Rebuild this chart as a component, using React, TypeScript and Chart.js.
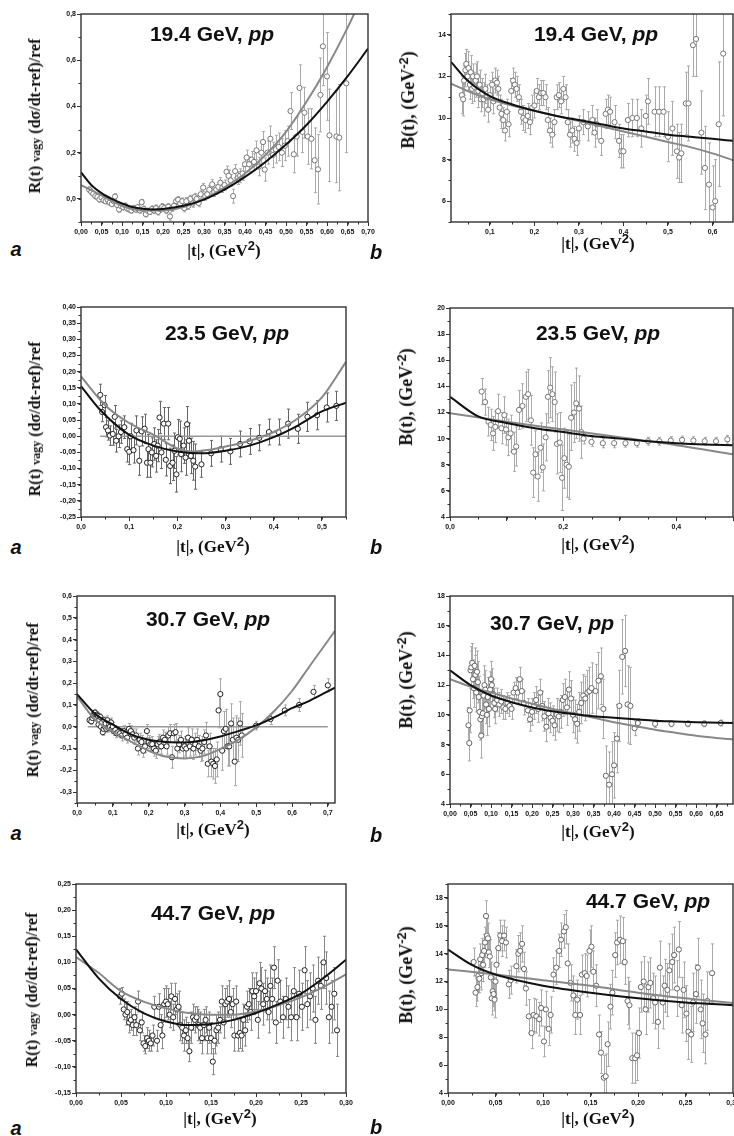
import React, { useEffect, useRef } from 'react';
import { Chart, registerables } from 'chart.js';
Chart.register(...registerables);

type Pt = [number, number, number]; // |t|, value, error
type Cv = [number, number];

// ---------- 19.4 GeV ----------
const R19: Pt[] = [
  [0.020,0.040,0.012],[0.025,0.030,0.012],[0.030,0.022,0.012],[0.035,0.012,0.012],[0.040,0.008,0.012],[0.045,-0.002,0.012],[0.050,0.006,0.012],[0.055,-0.006,0.012],[0.060,-0.010,0.012],[0.065,-0.004,0.012],
  [0.070,-0.016,0.012],[0.075,-0.022,0.012],[0.080,-0.010,0.012],[0.083,0.010,0.012],[0.088,-0.026,0.012],[0.093,-0.046,0.012],[0.098,-0.032,0.012],[0.103,-0.036,0.012],[0.108,-0.030,0.012],[0.113,-0.042,0.012],
  [0.118,-0.046,0.012],[0.123,-0.050,0.012],[0.128,-0.040,0.012],[0.133,-0.046,0.012],[0.138,-0.036,0.012],[0.143,-0.050,0.012],[0.148,-0.014,0.012],[0.153,-0.044,0.012],[0.158,-0.066,0.012],[0.163,-0.052,0.012],
  [0.168,-0.056,0.012],[0.173,-0.044,0.014],[0.178,-0.050,0.014],[0.183,-0.040,0.014],[0.188,-0.056,0.014],[0.193,-0.044,0.014],[0.198,-0.034,0.014],[0.203,-0.040,0.014],[0.208,-0.050,0.014],[0.213,-0.034,0.014],
  [0.217,-0.076,0.016],[0.222,-0.040,0.014],[0.227,-0.030,0.014],[0.232,-0.010,0.014],[0.237,-0.004,0.014],[0.242,-0.020,0.014],[0.247,-0.010,0.014],[0.252,-0.040,0.016],[0.257,-0.010,0.016],[0.262,-0.030,0.016],
  [0.267,0.000,0.016],[0.272,-0.020,0.016],[0.277,0.008,0.016],[0.282,0.000,0.016],[0.287,-0.018,0.016],[0.292,0.020,0.018],[0.298,0.049,0.018],[0.303,0.012,0.018],[0.308,0.020,0.018],[0.313,0.040,0.018],
  [0.320,0.063,0.020],[0.325,0.030,0.020],[0.330,0.040,0.020],[0.335,0.052,0.020],[0.340,0.070,0.022],[0.345,0.050,0.022],[0.350,0.060,0.022],[0.355,0.117,0.025],[0.360,0.100,0.025],[0.365,0.080,0.025],
  [0.371,0.012,0.030],[0.376,0.120,0.028],[0.382,0.090,0.028],[0.388,0.100,0.030],[0.394,0.110,0.030],[0.400,0.150,0.030],[0.404,0.179,0.032],[0.410,0.150,0.032],[0.416,0.170,0.035],[0.422,0.160,0.035],
  [0.428,0.210,0.040],[0.434,0.140,0.040],[0.440,0.200,0.045],[0.444,0.246,0.045],[0.448,0.127,0.050],[0.455,0.200,0.050],[0.462,0.260,0.055],[0.468,0.190,0.055],[0.475,0.215,0.060],[0.482,0.225,0.060],
  [0.490,0.200,0.060],[0.497,0.230,0.065],[0.504,0.250,0.065],[0.511,0.380,0.080],[0.519,0.193,0.080],[0.526,0.270,0.085],[0.533,0.480,0.100],[0.540,0.290,0.090],[0.545,0.373,0.110],[0.553,0.270,0.120],
  [0.562,0.260,0.130],[0.570,0.167,0.140],[0.578,0.128,0.150],[0.584,0.450,0.160],[0.590,0.660,0.170],[0.600,0.530,0.190],[0.606,0.275,0.200],[0.623,0.270,0.200],[0.630,0.265,0.230],[0.647,0.500,0.300],
];
const R19_BLACK: Cv[] = [[0,0.115],[0.025,0.06],[0.05,0.025],[0.075,0.0],[0.1,-0.02],[0.125,-0.035],[0.15,-0.043],[0.175,-0.046],[0.2,-0.044],[0.25,-0.03],[0.3,-0.003],[0.35,0.04],[0.4,0.095],[0.45,0.16],[0.5,0.235],[0.55,0.32],[0.6,0.42],[0.65,0.53],[0.7,0.65]];
const R19_GRAY: Cv[] = [[0,0.06],[0.05,0.015],[0.1,-0.03],[0.15,-0.05],[0.2,-0.05],[0.25,-0.035],[0.3,0.0],[0.35,0.05],[0.4,0.11],[0.45,0.19],[0.5,0.29],[0.55,0.42],[0.6,0.57],[0.65,0.74],[0.7,0.93]];

const B19: Pt[] = [
  [0.037,11.1,0.9],[0.040,10.9,0.8],[0.042,11.8,0.7],[0.045,12.3,0.8],[0.047,12.6,0.7],[0.050,12.0,0.7],[0.052,12.4,0.8],[0.055,11.6,0.7],[0.057,12.2,0.8],[0.060,11.4,0.7],
  [0.062,12.0,0.6],[0.065,11.5,0.7],[0.068,11.8,0.8],[0.071,12.0,0.7],[0.074,11.3,0.8],[0.077,11.6,0.7],[0.080,10.9,0.6],[0.083,11.2,0.7],[0.086,10.9,0.8],[0.090,11.4,0.7],
  [0.093,11.0,0.6],[0.096,10.4,0.6],[0.100,11.1,0.7],[0.105,11.6,0.6],[0.108,10.8,0.6],[0.112,11.8,0.6],[0.116,11.7,0.6],[0.119,11.4,0.6],[0.122,10.5,0.6],[0.126,10.2,0.7],
  [0.130,9.9,0.6],[0.134,9.4,0.5],[0.138,10.3,0.6],[0.142,9.7,0.6],[0.148,11.3,0.6],[0.152,11.8,0.6],[0.156,11.6,0.6],[0.160,11.4,0.6],[0.165,11.0,0.6],[0.170,10.3,0.6],
  [0.175,10.0,0.6],[0.180,9.9,0.6],[0.185,10.1,0.6],[0.190,9.8,0.6],[0.195,10.5,0.6],[0.200,10.6,0.6],[0.205,11.3,0.6],[0.210,11.0,0.6],[0.215,11.2,0.6],[0.220,11.2,0.6],
  [0.225,11.0,0.6],[0.230,9.9,0.6],[0.235,9.4,0.6],[0.240,9.2,0.6],[0.245,9.8,0.6],[0.250,11.0,0.6],[0.255,11.1,0.6],[0.260,10.8,0.6],[0.265,11.4,0.6],[0.270,11.0,0.6],
  [0.275,9.8,0.6],[0.280,9.2,0.6],[0.285,9.4,0.6],[0.290,9.0,0.6],[0.295,8.8,0.6],[0.300,9.5,0.6],[0.310,9.8,0.6],[0.320,9.6,0.7],[0.330,9.9,0.7],[0.335,9.3,0.7],
  [0.340,9.7,0.7],[0.350,8.9,0.7],[0.360,10.2,0.7],[0.365,10.4,0.7],[0.370,10.3,0.7],[0.380,9.8,0.8],[0.390,8.9,0.8],[0.395,8.4,0.8],[0.400,8.4,0.8],[0.410,9.9,0.8],
  [0.420,10.0,0.9],[0.430,10.0,0.9],[0.440,9.5,0.9],[0.450,10.1,1.0],[0.455,10.8,1.1],[0.470,10.3,1.2],[0.480,10.3,1.2],[0.490,10.3,1.2],[0.500,9.1,1.2],[0.510,9.5,1.3],
  [0.520,8.4,1.3],[0.525,8.1,1.2],[0.530,8.3,1.4],[0.540,10.7,1.5],[0.546,10.7,1.8],[0.556,13.5,1.5],[0.563,13.8,1.8],[0.575,9.3,2.0],[0.583,7.6,2.0],[0.592,6.8,2.0],
  [0.600,5.7,2.0],[0.606,6.0,2.0],[0.614,9.7,3.0],[0.624,13.1,3.0],
];
const B19_BLACK: Cv[] = [[0.0127,12.7],[0.05,11.8],[0.1,11.05],[0.15,10.65],[0.2,10.35],[0.25,10.1],[0.3,9.9],[0.35,9.7],[0.4,9.5],[0.45,9.35],[0.5,9.2],[0.55,9.1],[0.6,9.0],[0.646,8.9]];
const B19_GRAY: Cv[] = [[0.0127,11.65],[0.05,11.3],[0.1,10.9],[0.15,10.6],[0.2,10.35],[0.25,10.1],[0.3,9.85],[0.35,9.6],[0.4,9.35],[0.45,9.1],[0.5,8.85],[0.55,8.6],[0.6,8.3],[0.646,7.97]];

// ---------- 23.5 GeV ----------
const R23: Pt[] = [
  [0.040,0.128,0.033],[0.044,0.075,0.03],[0.049,0.096,0.03],[0.052,0.028,0.03],[0.056,0.018,0.03],[0.060,0.002,0.03],[0.066,0.007,0.035],[0.070,0.060,0.035],[0.073,-0.014,0.035],[0.078,0.000,0.035],
  [0.083,0.013,0.035],[0.090,0.028,0.035],[0.096,-0.040,0.04],[0.100,-0.048,0.04],[0.103,0.000,0.04],[0.109,-0.043,0.04],[0.115,0.018,0.045],[0.121,-0.076,0.045],[0.126,0.015,0.045],[0.132,0.023,0.045],
  [0.137,-0.082,0.045],[0.140,-0.040,0.045],[0.144,-0.082,0.045],[0.147,-0.050,0.045],[0.152,-0.024,0.05],[0.156,-0.061,0.05],[0.159,-0.029,0.05],[0.163,0.058,0.05],[0.167,-0.050,0.05],[0.172,0.039,0.05],
  [0.176,-0.073,0.05],[0.181,0.039,0.05],[0.185,-0.092,0.055],[0.190,-0.082,0.055],[0.194,-0.045,0.055],[0.198,-0.118,0.055],[0.201,-0.003,0.055],[0.205,-0.008,0.055],[0.208,-0.055,0.055],[0.213,-0.029,0.055],
  [0.217,-0.066,0.055],[0.220,0.037,0.055],[0.224,-0.014,0.055],[0.228,-0.061,0.055],[0.233,-0.076,0.06],[0.237,-0.094,0.07],[0.250,-0.087,0.04],[0.270,-0.053,0.04],[0.290,-0.040,0.04],[0.310,-0.047,0.04],
  [0.330,-0.024,0.04],[0.350,-0.016,0.04],[0.370,-0.005,0.04],[0.390,0.013,0.04],[0.410,0.013,0.04],[0.430,0.039,0.045],[0.450,0.023,0.045],[0.470,0.060,0.045],[0.490,0.065,0.045],[0.510,0.089,0.045],
  [0.530,0.094,0.045],
];
const R23_BLACK: Cv[] = [[0,0.155],[0.04,0.081],[0.1,0.004],[0.15,-0.029],[0.2,-0.047],[0.25,-0.053],[0.3,-0.045],[0.35,-0.029],[0.4,-0.003],[0.45,0.033],[0.5,0.077],[0.55,0.104]];
const R23_GRAY: Cv[] = [[0,0.185],[0.05,0.096],[0.1,0.041],[0.15,0.005],[0.2,-0.038],[0.23,-0.047],[0.3,-0.032],[0.35,-0.014],[0.4,0.013],[0.45,0.055],[0.5,0.12],[0.55,0.23]];
const R23_ZERO: Cv[] = [[0.04,0],[0.55,0]];

const B23: Pt[] = [
  [0.056,13.6,1.0],[0.062,12.8,1.0],[0.068,11.3,1.1],[0.072,11.05,1.2],[0.076,10.4,1.3],[0.080,10.9,1.2],[0.085,12.1,1.3],[0.091,10.8,1.2],[0.096,11.8,1.4],[0.099,10.7,1.2],
  [0.103,10.1,1.4],[0.107,10.4,1.4],[0.113,9.0,1.5],[0.117,9.4,1.5],[0.122,12.2,1.5],[0.128,12.5,1.7],[0.134,13.2,1.9],[0.138,13.4,1.9],[0.143,11.4,1.9],[0.147,7.4,1.9],
  [0.151,8.8,1.8],[0.155,7.1,1.9],[0.160,9.3,1.9],[0.164,7.8,1.8],[0.169,10.1,1.8],[0.173,13.2,2.0],[0.177,13.9,2.3],[0.181,13.4,2.1],[0.185,12.8,2.3],[0.189,9.6,2.3],
  [0.194,9.7,2.3],[0.198,7.0,2.5],[0.202,8.5,2.3],[0.206,8.0,2.5],[0.210,7.85,2.5],[0.214,11.6,2.5],[0.219,12.0,2.3],[0.223,12.7,2.7],[0.228,12.3,2.5],[0.232,10.5,2.0],
  [0.236,10.0,0.4],[0.250,9.75,0.35],[0.270,9.65,0.35],[0.290,9.65,0.35],[0.310,9.65,0.3],[0.330,9.65,0.3],[0.350,9.8,0.3],[0.370,9.8,0.3],[0.390,9.85,0.3],[0.410,9.9,0.3],
  [0.430,9.85,0.3],[0.450,9.8,0.3],[0.470,9.8,0.3],[0.490,9.95,0.3],
];
const B23_BLACK: Cv[] = [[0,13.2],[0.05,11.7],[0.1,11.2],[0.15,10.8],[0.2,10.5],[0.25,10.2],[0.3,10.0],[0.35,9.8],[0.4,9.65],[0.45,9.55],[0.5,9.5]];
const B23_GRAY: Cv[] = [[0,11.95],[0.1,11.3],[0.2,10.7],[0.3,10.1],[0.4,9.5],[0.5,8.8]];

// ---------- 30.7 GeV ----------
const R30: Pt[] = [
  [0.035,0.030,0.015],[0.040,0.025,0.015],[0.043,0.040,0.015],[0.046,0.050,0.015],[0.048,0.060,0.015],[0.050,0.065,0.015],[0.053,0.040,0.015],[0.055,0.055,0.015],[0.058,0.050,0.015],[0.060,0.010,0.015],
  [0.062,0.030,0.015],[0.065,0.045,0.015],[0.067,0.000,0.015],[0.070,0.020,0.015],[0.072,-0.025,0.015],[0.074,-0.010,0.015],[0.076,0.030,0.015],[0.078,0.000,0.015],[0.080,0.015,0.015],[0.082,-0.010,0.015],
  [0.085,0.030,0.02],[0.087,-0.005,0.02],[0.090,0.010,0.02],[0.092,0.000,0.02],[0.095,0.020,0.02],[0.097,-0.010,0.02],[0.100,0.000,0.02],[0.103,-0.020,0.02],[0.107,-0.015,0.02],[0.110,-0.030,0.02],
  [0.115,-0.025,0.02],[0.120,-0.030,0.02],[0.125,-0.040,0.025],[0.130,-0.020,0.025],[0.135,-0.035,0.025],[0.140,-0.050,0.025],[0.145,-0.010,0.025],[0.150,-0.020,0.025],[0.155,-0.035,0.025],[0.160,-0.050,0.03],
  [0.165,-0.040,0.03],[0.170,-0.100,0.03],[0.175,-0.060,0.03],[0.180,-0.070,0.03],[0.185,-0.110,0.03],[0.190,-0.090,0.03],[0.195,-0.020,0.03],[0.200,-0.070,0.03],[0.205,-0.080,0.03],[0.210,-0.080,0.035],
  [0.215,-0.100,0.035],[0.220,-0.110,0.035],[0.225,-0.080,0.035],[0.230,-0.070,0.035],[0.235,-0.090,0.035],[0.240,-0.050,0.035],[0.245,-0.060,0.035],[0.250,-0.090,0.04],[0.255,-0.040,0.04],[0.260,-0.030,0.04],
  [0.265,-0.140,0.05],[0.270,-0.030,0.04],[0.275,-0.025,0.04],[0.280,-0.100,0.04],[0.285,-0.080,0.04],[0.290,-0.060,0.04],[0.295,-0.100,0.045],[0.300,-0.090,0.045],[0.305,-0.100,0.045],[0.310,-0.050,0.045],
  [0.315,-0.090,0.045],[0.320,-0.060,0.05],[0.325,-0.100,0.05],[0.330,-0.080,0.05],[0.335,-0.060,0.05],[0.340,-0.090,0.05],[0.345,-0.110,0.05],[0.350,-0.100,0.055],[0.355,-0.070,0.055],[0.360,-0.040,0.06],
  [0.365,-0.170,0.06],[0.370,-0.090,0.06],[0.375,-0.160,0.07],[0.380,-0.170,0.07],[0.385,-0.180,0.08],[0.390,-0.150,0.08],[0.395,0.075,0.08],[0.400,0.150,0.07],[0.405,-0.110,0.09],[0.410,-0.020,0.09],
  [0.415,-0.010,0.09],[0.420,-0.090,0.09],[0.425,-0.090,0.09],[0.430,0.015,0.09],[0.435,-0.060,0.1],[0.440,-0.160,0.11],[0.445,-0.050,0.1],[0.450,-0.060,0.1],[0.455,0.015,0.1],[0.460,-0.040,0.1],
  [0.500,0.005,0.02],[0.540,0.035,0.025],[0.580,0.075,0.025],[0.620,0.100,0.03],[0.660,0.160,0.03],[0.700,0.190,0.03],
];
const R30_BLACK: Cv[] = [[0,0.15],[0.05,0.06],[0.1,0.01],[0.15,-0.035],[0.2,-0.06],[0.25,-0.07],[0.3,-0.072],[0.35,-0.063],[0.4,-0.045],[0.45,-0.02],[0.5,0.006],[0.55,0.043],[0.6,0.085],[0.65,0.12],[0.72,0.18]];
const R30_GRAY: Cv[] = [[0,0.14],[0.05,0.033],[0.1,-0.022],[0.15,-0.068],[0.2,-0.11],[0.25,-0.138],[0.3,-0.146],[0.35,-0.135],[0.4,-0.102],[0.45,-0.06],[0.5,-0.003],[0.55,0.071],[0.6,0.164],[0.65,0.28],[0.72,0.44]];
const R30_ZERO: Cv[] = [[0.03,0],[0.7,0]];

const B30: Pt[] = [
  [0.045,9.3,1.2],[0.047,8.1,1.2],[0.048,10.3,1.5],[0.050,13.0,1.3],[0.052,13.2,1.4],[0.054,13.5,1.3],[0.056,12.4,1.3],[0.058,11.8,1.3],[0.060,13.3,1.2],[0.062,12.7,1.3],
  [0.064,11.5,1.3],[0.066,12.9,1.4],[0.068,12.2,1.4],[0.070,11.2,1.4],[0.072,10.2,1.4],[0.074,9.7,1.4],[0.076,8.6,1.5],[0.078,9.9,1.4],[0.080,10.1,1.4],[0.082,11.3,1.4],
  [0.084,12.0,1.3],[0.086,11.7,1.3],[0.088,10.7,1.3],[0.090,10.0,1.4],[0.092,11.2,1.3],[0.095,10.4,1.2],[0.098,11.7,1.2],[0.100,12.4,1.2],[0.102,12.0,1.1],[0.105,11.4,1.0],
  [0.108,10.8,1.0],[0.110,10.4,1.0],[0.115,11.0,0.8],[0.120,10.7,0.8],[0.125,10.9,0.8],[0.130,10.5,0.8],[0.135,10.4,0.7],[0.140,10.8,0.7],[0.145,10.6,0.7],[0.150,10.4,0.7],
  [0.155,11.5,0.7],[0.160,11.8,0.7],[0.165,11.5,0.7],[0.170,12.4,0.8],[0.175,11.6,0.8],[0.180,10.8,0.8],[0.190,10.3,0.8],[0.195,9.7,0.8],[0.200,10.2,0.9],[0.205,10.6,0.9],
  [0.210,11.0,0.9],[0.215,10.4,0.9],[0.220,11.5,0.9],[0.225,10.6,1.0],[0.230,9.9,1.0],[0.235,9.2,1.0],[0.240,10.1,1.0],[0.245,9.8,1.0],[0.250,9.6,1.0],[0.255,9.3,1.0],
  [0.260,10.0,1.1],[0.265,9.9,1.1],[0.270,10.2,1.1],[0.275,11.0,1.1],[0.280,11.2,1.2],[0.285,10.5,1.2],[0.290,11.7,1.2],[0.295,11.1,1.2],[0.300,10.0,1.2],[0.305,9.7,1.3],
  [0.310,9.4,1.3],[0.315,10.2,1.3],[0.320,10.8,1.4],[0.325,11.3,1.4],[0.330,11.1,1.5],[0.335,11.5,1.5],[0.340,11.6,1.6],[0.345,11.8,1.7],[0.355,11.6,1.8],[0.362,12.3,1.9],
  [0.368,12.6,1.9],[0.374,10.4,2.0],[0.380,5.9,2.0],[0.388,5.3,2.2],[0.395,6.0,2.2],[0.400,6.6,2.2],[0.407,8.4,2.3],[0.413,10.6,2.4],[0.420,13.9,2.5],[0.427,14.3,2.4],
  [0.433,10.7,2.6],[0.440,10.6,2.6],[0.450,9.1,0.5],[0.458,9.45,0.3],[0.500,9.4,0.25],[0.540,9.4,0.2],[0.580,9.4,0.2],[0.620,9.4,0.2],[0.660,9.45,0.2],
];
const B30_BLACK: Cv[] = [[0,13.0],[0.05,12.0],[0.1,11.3],[0.15,10.85],[0.2,10.5],[0.25,10.25],[0.3,10.05],[0.35,9.9],[0.4,9.8],[0.45,9.7],[0.5,9.6],[0.55,9.55],[0.6,9.5],[0.69,9.45]];
const B30_GRAY: Cv[] = [[0,12.4],[0.05,11.9],[0.1,11.5],[0.15,11.1],[0.2,10.75],[0.25,10.4],[0.3,10.1],[0.35,9.8],[0.4,9.5],[0.45,9.25],[0.5,9.0],[0.55,8.8],[0.6,8.6],[0.65,8.45],[0.69,8.35]];

// ---------- 44.7 GeV ----------
const R44: Pt[] = [
  [0.049,0.035,0.015],[0.051,0.040,0.012],[0.053,0.010,0.02],[0.055,0.000,0.02],[0.057,0.005,0.02],[0.059,-0.015,0.02],[0.061,-0.010,0.02],[0.063,-0.020,0.02],[0.065,-0.005,0.02],[0.067,-0.020,0.02],
  [0.069,0.025,0.02],[0.071,-0.030,0.02],[0.073,-0.015,0.02],[0.075,-0.055,0.015],[0.077,-0.060,0.015],[0.079,-0.045,0.02],[0.081,-0.050,0.02],[0.083,-0.055,0.015],[0.085,-0.040,0.02],[0.087,0.015,0.02],
  [0.090,-0.050,0.02],[0.092,0.015,0.025],[0.094,-0.020,0.02],[0.096,-0.040,0.025],[0.098,0.020,0.03],[0.100,0.025,0.03],[0.102,0.020,0.03],[0.104,0.000,0.025],[0.106,0.035,0.025],[0.108,-0.005,0.025],
  [0.110,0.030,0.03],[0.112,0.010,0.03],[0.114,0.015,0.03],[0.116,-0.020,0.03],[0.118,-0.025,0.03],[0.120,-0.040,0.03],[0.122,-0.030,0.025],[0.124,-0.045,0.03],[0.126,-0.070,0.02],[0.128,-0.025,0.03],
  [0.130,-0.005,0.025],[0.132,-0.010,0.025],[0.134,-0.005,0.02],[0.136,-0.020,0.03],[0.138,-0.025,0.03],[0.140,-0.045,0.03],[0.142,-0.020,0.03],[0.144,-0.010,0.025],[0.146,-0.045,0.03],[0.148,-0.025,0.03],
  [0.150,-0.045,0.03],[0.152,-0.090,0.025],[0.154,-0.050,0.025],[0.156,-0.030,0.03],[0.158,-0.025,0.03],[0.160,-0.010,0.025],[0.162,0.025,0.03],[0.164,-0.015,0.03],[0.166,0.020,0.03],[0.168,0.025,0.03],
  [0.170,0.030,0.035],[0.172,0.005,0.03],[0.174,0.020,0.03],[0.176,-0.040,0.03],[0.178,0.025,0.03],[0.180,-0.040,0.03],[0.182,-0.035,0.03],[0.184,-0.040,0.03],[0.186,-0.010,0.03],[0.188,-0.030,0.03],
  [0.190,0.015,0.03],[0.192,0.020,0.03],[0.194,0.005,0.035],[0.196,0.045,0.035],[0.198,0.035,0.035],[0.200,0.045,0.035],[0.202,-0.010,0.035],[0.204,0.060,0.04],[0.206,0.050,0.04],[0.208,0.020,0.04],
  [0.210,0.045,0.04],[0.212,0.030,0.04],[0.214,0.005,0.04],[0.216,0.055,0.04],[0.218,0.030,0.04],[0.220,0.090,0.04],[0.222,-0.015,0.04],[0.224,0.065,0.04],[0.227,0.025,0.04],[0.230,-0.005,0.04],
  [0.233,0.030,0.04],[0.236,0.015,0.04],[0.239,-0.005,0.045],[0.242,0.045,0.045],[0.245,-0.005,0.045],[0.248,0.040,0.045],[0.251,0.015,0.045],[0.254,0.085,0.045],[0.257,0.020,0.045],[0.260,0.035,0.045],
  [0.263,0.050,0.045],[0.266,-0.010,0.045],[0.269,0.065,0.045],[0.272,0.055,0.045],[0.275,0.100,0.05],[0.278,0.070,0.05],[0.281,-0.005,0.05],[0.284,0.015,0.05],[0.287,0.040,0.05],[0.290,-0.030,0.05],
];
const R44_BLACK: Cv[] = [[0,0.125],[0.025,0.07],[0.05,0.03],[0.075,0.003],[0.1,-0.013],[0.125,-0.02],[0.15,-0.018],[0.175,-0.01],[0.2,0.003],[0.225,0.02],[0.25,0.04],[0.275,0.07],[0.3,0.105]];
const R44_GRAY: Cv[] = [[0,0.11],[0.025,0.08],[0.05,0.045],[0.075,0.025],[0.1,0.012],[0.125,0.003],[0.15,0.0],[0.175,0.0],[0.2,0.006],[0.225,0.018],[0.25,0.033],[0.275,0.053],[0.3,0.077]];

const B44: Pt[] = [
  [0.027,13.4,1.0],[0.029,11.2,1.0],[0.031,11.6,1.0],[0.032,12.4,1.2],[0.033,12.2,1.0],[0.034,13.6,1.1],[0.035,12.6,1.2],[0.036,13.9,1.2],[0.037,13.2,1.2],[0.038,14.2,1.2],
  [0.039,14.8,1.1],[0.040,16.7,1.1],[0.041,15.3,1.2],[0.042,15.1,1.1],[0.043,14.1,1.1],[0.044,13.8,1.2],[0.045,12.3,1.1],[0.046,10.8,1.2],[0.047,11.3,1.1],[0.048,11.1,1.2],
  [0.049,10.7,1.3],[0.050,12.0,1.2],[0.051,13.2,1.2],[0.053,14.4,1.1],[0.055,15.3,1.1],[0.057,14.9,1.1],[0.059,15.3,1.1],[0.061,14.8,1.1],[0.064,11.8,1.0],[0.066,12.1,1.0],
  [0.072,13.1,1.2],[0.074,14.0,1.3],[0.076,14.2,1.3],[0.078,14.7,1.3],[0.080,12.9,1.2],[0.082,11.5,1.2],[0.085,9.5,1.2],[0.088,8.3,1.1],[0.090,9.6,1.2],[0.093,9.5,1.2],
  [0.096,9.3,1.2],[0.098,10.1,1.3],[0.101,7.7,1.1],[0.103,10.0,1.3],[0.106,8.6,1.2],[0.108,9.6,1.3],[0.111,12.5,1.2],[0.114,13.0,1.2],[0.117,14.2,1.2],[0.119,15.0,1.2],
  [0.122,15.6,1.2],[0.124,15.9,1.2],[0.126,13.3,1.4],[0.129,11.9,1.3],[0.132,11.0,1.4],[0.134,9.6,1.4],[0.136,10.7,1.4],[0.139,9.6,1.4],[0.141,12.5,1.4],[0.144,12.6,1.4],
  [0.146,12.4,1.5],[0.149,14.2,1.5],[0.151,14.5,1.5],[0.153,12.7,1.5],[0.156,11.7,1.5],[0.159,8.2,1.4],[0.161,6.9,1.5],[0.164,5.1,1.6],[0.166,5.2,1.6],[0.168,7.5,1.6],
  [0.171,10.2,1.6],[0.173,11.2,1.6],[0.176,13.9,1.6],[0.178,14.8,1.6],[0.181,15.0,1.7],[0.184,14.9,1.7],[0.186,13.4,1.6],[0.189,10.6,1.7],[0.191,10.3,1.7],[0.194,6.5,1.8],
  [0.197,6.5,1.8],[0.199,6.7,1.8],[0.201,8.3,1.8],[0.203,11.6,1.8],[0.206,12.0,1.8],[0.208,10.0,1.8],[0.211,11.6,1.8],[0.213,11.9,1.8],[0.216,10.8,1.8],[0.218,10.5,1.9],
  [0.221,9.1,1.9],[0.223,13.0,1.9],[0.226,10.5,1.9],[0.228,11.7,1.9],[0.231,11.4,1.9],[0.233,12.8,1.9],[0.236,13.4,2.0],[0.238,13.9,2.0],[0.241,11.5,2.0],[0.243,14.3,2.0],
  [0.246,10.3,2.0],[0.248,11.4,2.0],[0.251,9.7,2.0],[0.253,8.4,2.0],[0.256,8.2,2.0],[0.258,10.5,2.1],[0.261,11.1,2.1],[0.263,13.0,2.1],[0.266,10.0,2.1],[0.268,9.0,2.1],
  [0.271,8.2,2.1],[0.273,10.6,2.1],[0.278,12.6,2.1],
];
const B44_BLACK: Cv[] = [[0,14.3],[0.025,13.2],[0.05,12.5],[0.075,12.05],[0.1,11.7],[0.15,11.2],[0.2,10.8],[0.25,10.5],[0.3,10.3]];
const B44_GRAY: Cv[] = [[0,12.87],[0.05,12.5],[0.1,12.1],[0.15,11.7],[0.2,11.2],[0.25,10.8],[0.3,10.45]];

// ---------- tick values ----------
const X_TICKS_19A = [0,0.05,0.1,0.15,0.2,0.25,0.3,0.35,0.4,0.45,0.5,0.55,0.6,0.65,0.7];
const Y_TICKS_19A = [0,0.2,0.4,0.6,0.8];
const X_TICKS_19B = [0.1,0.2,0.3,0.4,0.5,0.6];
const Y_TICKS_19B = [6,8,10,12,14];
const X_TICKS_23A = [0,0.1,0.2,0.3,0.4,0.5];
const Y_TICKS_23A = [-0.25,-0.2,-0.15,-0.1,-0.05,0,0.05,0.1,0.15,0.2,0.25,0.3,0.35,0.4];
const X_TICKS_23B = [0,0.1,0.2,0.3,0.4,0.5];
const Y_TICKS_23B = [4,6,8,10,12,14,16,18,20];
const X_TICKS_30A = [0,0.1,0.2,0.3,0.4,0.5,0.6,0.7];
const Y_TICKS_30A = [-0.3,-0.2,-0.1,0,0.1,0.2,0.3,0.4,0.5,0.6];
const X_TICKS_30B = [0,0.05,0.1,0.15,0.2,0.25,0.3,0.35,0.4,0.45,0.5,0.55,0.6,0.65];
const Y_TICKS_30B = [4,6,8,10,12,14,16,18];
const X_TICKS_44 = [0,0.05,0.1,0.15,0.2,0.25,0.3];
const Y_TICKS_44A = [-0.15,-0.1,-0.05,0,0.05,0.1,0.15,0.2,0.25];
const Y_TICKS_44B = [4,6,8,10,12,14,16,18];

interface PanelCfg {
  box: [number, number, number, number];
  xMin: number; xMax: number; xTicks: number[]; xDec: number; xMinor: number; xLabelEvery?: number;
  yMin: number; yMax: number; yTicks: number[]; yDec: number; yMinor: number;
  points: Pt[]; black: Cv[]; gray: Cv[]; zero?: Cv[];
  ptColor: string; barColor: string;
  energy: string; titlePos: [number, number];
  kind: 'a' | 'b'; letterPos: [number, number]; yTitlePos: [number, number]; xTitlePos: [number, number];
}

const PANELS: PanelCfg[] = [
  { box: [81, 14, 368, 222], xMin: 0, xMax: 0.7, xTicks: X_TICKS_19A, xDec: 2, xMinor: 0.025, yMin: -0.1, yMax: 0.8, yTicks: Y_TICKS_19A, yDec: 1, yMinor: 0.1,
    points: R19, black: R19_BLACK, gray: R19_GRAY, ptColor: '#777', barColor: '#aaa', energy: '19.4', titlePos: [212, 33],
    kind: 'a', letterPos: [16, 249], yTitlePos: [35, 116], xTitlePos: [224, 249] },
  { box: [451, 14, 733, 222], xMin: 0.0127, xMax: 0.646, xTicks: X_TICKS_19B, xDec: 1, xMinor: 0.05, yMin: 5, yMax: 15, yTicks: Y_TICKS_19B, yDec: 0, yMinor: 1,
    points: B19, black: B19_BLACK, gray: B19_GRAY, ptColor: '#777', barColor: '#aaa', energy: '19.4', titlePos: [596, 33],
    kind: 'b', letterPos: [376, 252], yTitlePos: [407, 100], xTitlePos: [598, 242] },
  { box: [81, 307, 346, 517], xMin: 0, xMax: 0.55, xTicks: X_TICKS_23A, xDec: 1, xMinor: 0.05, yMin: -0.25, yMax: 0.4, yTicks: Y_TICKS_23A, yDec: 2, yMinor: 0.025,
    points: R23, black: R23_BLACK, gray: R23_GRAY, zero: R23_ZERO, ptColor: '#222', barColor: '#666', energy: '23.5', titlePos: [227, 332],
    kind: 'a', letterPos: [16, 547], yTitlePos: [35, 419], xTitlePos: [213, 545] },
  { box: [450, 308, 733, 517], xMin: 0, xMax: 0.5, xTicks: X_TICKS_23B, xDec: 1, xMinor: 0.05, xLabelEvery: 2, yMin: 4, yMax: 20, yTicks: Y_TICKS_23B, yDec: 0, yMinor: 1,
    points: B23, black: B23_BLACK, gray: B23_GRAY, ptColor: '#777', barColor: '#aaa', energy: '23.5', titlePos: [598, 332],
    kind: 'b', letterPos: [376, 547], yTitlePos: [405, 397], xTitlePos: [598, 543] },
  { box: [77, 596, 335, 803], xMin: 0, xMax: 0.72, xTicks: X_TICKS_30A, xDec: 1, xMinor: 0.05, yMin: -0.35, yMax: 0.6, yTicks: Y_TICKS_30A, yDec: 1, yMinor: 0.05,
    points: R30, black: R30_BLACK, gray: R30_GRAY, zero: R30_ZERO, ptColor: '#222', barColor: '#aaa', energy: '30.7', titlePos: [208, 618],
    kind: 'a', letterPos: [16, 833], yTitlePos: [33, 700], xTitlePos: [213, 828] },
  { box: [450, 596, 733, 804], xMin: 0, xMax: 0.69, xTicks: X_TICKS_30B, xDec: 2, xMinor: 0.025, yMin: 4, yMax: 18, yTicks: Y_TICKS_30B, yDec: 0, yMinor: 1,
    points: B30, black: B30_BLACK, gray: B30_GRAY, ptColor: '#666', barColor: '#aaa', energy: '30.7', titlePos: [552, 622],
    kind: 'b', letterPos: [376, 835], yTitlePos: [405, 680], xTitlePos: [598, 830] },
  { box: [76, 884, 346, 1093], xMin: 0, xMax: 0.3, xTicks: X_TICKS_44, xDec: 2, xMinor: 0.025, yMin: -0.15, yMax: 0.25, yTicks: Y_TICKS_44A, yDec: 2, yMinor: 0.025,
    points: R44, black: R44_BLACK, gray: R44_GRAY, ptColor: '#222', barColor: '#888', energy: '44.7', titlePos: [213, 912],
    kind: 'a', letterPos: [16, 1128], yTitlePos: [32, 990], xTitlePos: [220, 1117] },
  { box: [448, 884, 733, 1093], xMin: 0, xMax: 0.3, xTicks: X_TICKS_44, xDec: 2, xMinor: 0.025, yMin: 4, yMax: 19, yTicks: Y_TICKS_44B, yDec: 0, yMinor: 1,
    points: B44, black: B44_BLACK, gray: B44_GRAY, ptColor: '#666', barColor: '#aaa', energy: '44.7', titlePos: [648, 900],
    kind: 'b', letterPos: [376, 1127], yTitlePos: [405, 975], xTitlePos: [598, 1117] },
];

const SANS = "'Liberation Sans', Arial, Helvetica, sans-serif";
const SERIF = "'Liberation Serif', 'Times New Roman', serif";
const fmt = (v: number, dec: number) => {
  const s = (Math.abs(v) < 1e-9 ? 0 : v).toFixed(dec);
  return s.replace('.', ',');
};

const Y_W = 44, X_H = 24, PAD_T = 8, PAD_R = 14;

function Panel({ cfg }: { cfg: PanelCfg }) {
  const ref = useRef<HTMLCanvasElement>(null);
  const [L, T, R, B] = cfg.box;
  const cw = R - L + Y_W + PAD_R;
  const ch = B - T + PAD_T + X_H;
  useEffect(() => {
    const font = { family: SANS, size: 7, weight: 'bold' as const };
    const plug = {
      id: 'errframe',
      beforeDatasetsDraw(chart: any) {
        const { ctx, chartArea: a, scales } = chart;
        const x = scales.x, y = scales.y;
        ctx.save();
        ctx.beginPath();
        ctx.rect(a.left, a.top, a.right - a.left, a.bottom - a.top);
        ctx.clip();
        ctx.strokeStyle = cfg.barColor;
        ctx.lineWidth = 1;
        for (const [t, v, e] of cfg.points) {
          const px = Math.round(x.getPixelForValue(t)) + 0.5;
          const p1 = y.getPixelForValue(v - e), p2 = y.getPixelForValue(v + e);
          ctx.beginPath();
          ctx.moveTo(px, p1); ctx.lineTo(px, p2);
          ctx.moveTo(px - 1.6, p1); ctx.lineTo(px + 1.6, p1);
          ctx.moveTo(px - 1.6, p2); ctx.lineTo(px + 1.6, p2);
          ctx.stroke();
        }
        ctx.restore();
      },
      afterDraw(chart: any) {
        const { ctx, chartArea: a, scales } = chart;
        const x = scales.x, y = scales.y;
        ctx.save();
        ctx.strokeStyle = '#333';
        ctx.lineWidth = 1;
        ctx.beginPath();
        const s0 = Math.ceil(cfg.xMin / cfg.xMinor - 1e-6), s1 = Math.floor(cfg.xMax / cfg.xMinor + 1e-6);
        for (let k = s0; k <= s1; k++) {
          const px = Math.round(x.getPixelForValue(k * cfg.xMinor)) + 0.5;
          ctx.moveTo(px, a.bottom); ctx.lineTo(px, a.bottom + 2.5);
        }
        const q0 = Math.ceil(cfg.yMin / cfg.yMinor - 1e-6), q1 = Math.floor(cfg.yMax / cfg.yMinor + 1e-6);
        for (let k = q0; k <= q1; k++) {
          const py = Math.round(y.getPixelForValue(k * cfg.yMinor)) + 0.5;
          ctx.moveTo(a.left, py); ctx.lineTo(a.left - 2.5, py);
        }
        ctx.stroke();
        ctx.lineWidth = 1.4;
        ctx.strokeStyle = '#333';
        ctx.strokeRect(a.left, a.top, a.right - a.left, a.bottom - a.top);
        ctx.restore();
      },
    };
    const toXY = (c: Cv[]) => c.map(([t, v]) => ({ x: t, y: v }));
    const datasets: any[] = [
      { data: toXY(cfg.black), showLine: true, borderColor: '#111', borderWidth: 2, pointRadius: 0, cubicInterpolationMode: 'monotone' },
      { data: toXY(cfg.gray), showLine: true, borderColor: '#888', borderWidth: 2, pointRadius: 0, cubicInterpolationMode: 'monotone' },
      { data: cfg.points.map(([t, v]) => ({ x: t, y: v })), showLine: false, pointRadius: 2.6, pointBackgroundColor: '#fff', pointBorderColor: cfg.ptColor, pointBorderWidth: 1 },
    ];
    if (cfg.zero) datasets.push({ data: toXY(cfg.zero), showLine: true, borderColor: '#999', borderWidth: 1.3, pointRadius: 0 });
    const every = cfg.xLabelEvery ?? 1;
    const chart = new Chart(ref.current as HTMLCanvasElement, {
      type: 'scatter',
      data: { datasets },
      options: {
        animation: false,
        responsive: false,
        devicePixelRatio: 1,
        layout: { padding: { top: PAD_T, right: PAD_R, left: 0, bottom: 0 } },
        plugins: { legend: { display: false }, tooltip: { enabled: false } },
        scales: {
          x: {
            type: 'linear', min: cfg.xMin, max: cfg.xMax,
            afterBuildTicks: (s: any) => { s.ticks = cfg.xTicks.map((v) => ({ value: v })); },
            afterFit: (s: any) => { s.height = X_H; s.paddingLeft = 0; s.paddingRight = 0; },
            ticks: { autoSkip: false, maxRotation: 0, minRotation: 0, padding: 2, font, color: '#111',
              callback: (v: any, i: number) => (i % every === 0 ? fmt(Number(v), cfg.xDec) : '') },
            grid: { display: true, drawOnChartArea: false, drawTicks: true, tickLength: 4, color: '#333', lineWidth: 1 },
            border: { display: false },
          },
          y: {
            type: 'linear', min: cfg.yMin, max: cfg.yMax,
            afterBuildTicks: (s: any) => { s.ticks = cfg.yTicks.map((v) => ({ value: v })); },
            afterFit: (s: any) => { s.width = Y_W; s.paddingTop = 0; s.paddingBottom = 0; },
            ticks: { autoSkip: false, padding: 1, font, color: '#111', callback: (v: any) => fmt(Number(v), cfg.yDec) },
            grid: { display: true, drawOnChartArea: false, drawTicks: true, tickLength: 4, color: '#333', lineWidth: 1 },
            border: { display: false },
          },
        },
      } as any,
      plugins: [plug],
    });
    return () => chart.destroy();
  }, []);

  const abs = (x: number, y: number, extra: React.CSSProperties = {}): React.CSSProperties => ({
    position: 'absolute', left: x, top: y, transform: 'translate(-50%, -50%)', whiteSpace: 'nowrap', lineHeight: 1, color: '#111', ...extra,
  });

  return (
    <>
      <canvas ref={ref} width={cw} height={ch}
        style={{ position: 'absolute', left: L - Y_W, top: T - PAD_T, width: cw, height: ch }} />
      <div style={abs(cfg.titlePos[0], cfg.titlePos[1], { fontFamily: SANS, fontWeight: 'bold', fontSize: 21 })}>
        {cfg.energy} GeV, <i>pp</i>
      </div>
      <div style={abs(cfg.letterPos[0], cfg.letterPos[1], { fontFamily: SANS, fontWeight: 'bold', fontStyle: 'italic', fontSize: 20 })}>
        {cfg.kind}
      </div>
      <div style={abs(cfg.xTitlePos[0], cfg.xTitlePos[1], { fontFamily: SERIF, fontWeight: 'bold', fontSize: 17 })}>
        |t|, (GeV<sup style={{ fontFamily: SANS, fontSize: 13, verticalAlign: '0.45em' }}>2</sup>)
      </div>
      <div style={abs(cfg.yTitlePos[0], cfg.yTitlePos[1], { fontFamily: SERIF, fontWeight: 'bold', fontSize: cfg.kind === 'a' ? 16 : 18, transform: 'translate(-50%, -50%) rotate(-90deg)' })}>
        {cfg.kind === 'a' ? (
          <>R(t) <span style={{ fontSize: 12 }}>vagy</span> (dσ/dt-ref)/ref</>
        ) : (
          <>B(t), (GeV<sup style={{ fontFamily: SANS, fontSize: 13, verticalAlign: '0.45em' }}>-2</sup>)</>
        )}
      </div>
    </>
  );
}

export default function App() {
  return (
    <div style={{ position: 'absolute', left: 0, top: 0, width: 734, height: 1136, overflow: 'hidden', background: '#fff' }}>
      {PANELS.map((p, i) => <Panel key={i} cfg={p} />)}
    </div>
  );
}
